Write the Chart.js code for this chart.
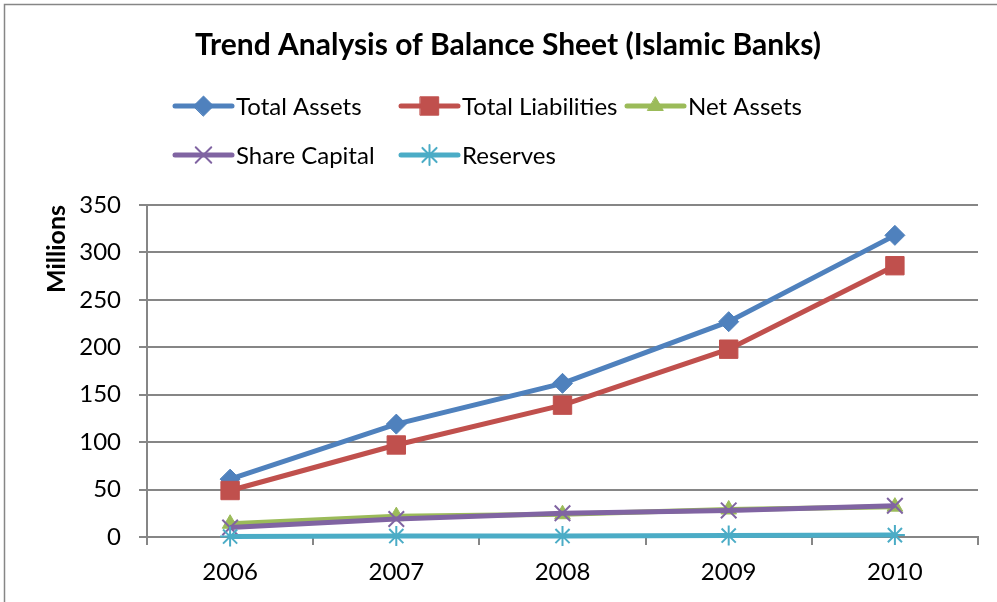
<!DOCTYPE html>
<html>
<head>
<meta charset="utf-8">
<title>Trend Analysis of Balance Sheet (Islamic Banks)</title>
<script src="https://cdn.jsdelivr.net/npm/chart.js@4.4.1/dist/chart.umd.min.js"></script>
<style>
  html, body { margin: 0; padding: 0; background: #fff; }
  #wrap { width: 997px; height: 602px; }
</style>
</head>
<body>
<div id="wrap"><canvas id="trend-chart" width="997" height="602"></canvas></div>
<script>
// values in millions
const years = ['2006', '2007', '2008', '2009', '2010'];
const totalAssets      = [61, 119, 162, 227, 318];
const totalLiabilities = [49, 97, 139, 198, 286];
const netAssets        = [14, 22, 24, 29, 32];
const shareCapital     = [10, 19, 25, 28, 33];
const reserves         = [0.5, 1, 1, 1.5, 2];
const yTicks = [0, 50, 100, 150, 200, 250, 300, 350];

const FONT = 'Lato, "Open Sans", sans-serif';
const GRID = '#868686';

function series(label, data, color, pointStyle, radius, borderW, order) {
  return {
    label, data, order,
    borderColor: color,
    backgroundColor: color,
    borderWidth: 5,
    tension: 0,
    clip: 12,
    pointStyle,
    pointRadius: radius,
    pointHoverRadius: radius,
    pointBackgroundColor: color,
    pointBorderColor: color,
    pointBorderWidth: borderW,
  };
}

// Excel style legend: fixed columns, left aligned rows
const legendGrid = {
  id: 'legendGrid',
  afterDraw(chart) {
    const ctx = chart.ctx;
    ctx.save();
    ctx.font = '24px ' + FONT;
    ctx.textBaseline = 'middle';
    ctx.textAlign = 'left';
    chart.data.datasets.forEach((ds, i) => {
      const col = i % 3, row = Math.floor(i / 3);
      const x = 175 + col * 226, y = 106 + row * 49;
      ctx.strokeStyle = ds.borderColor;
      ctx.lineWidth = 5;
      ctx.lineCap = 'round';
      ctx.beginPath(); ctx.moveTo(x, y); ctx.lineTo(x + 57, y); ctx.stroke();
      ctx.fillStyle = ds.pointBackgroundColor;
      ctx.strokeStyle = ds.pointBorderColor;
      ctx.lineWidth = ds.pointBorderWidth;
      Chart.helpers.drawPoint(ctx, { pointStyle: ds.pointStyle, radius: ds.pointRadius, rotation: 0, borderWidth: ds.pointBorderWidth }, x + 28.5, y);
      ctx.fillStyle = '#000';
      ctx.fillText(ds.label, x + 61, y + 1);
    });
    ctx.restore();
  }
};

const frame = {
  id: 'frame',
  beforeDraw(chart) {
    const ctx = chart.ctx;
    ctx.save();
    ctx.fillStyle = '#fff';
    ctx.fillRect(0, 0, chart.width, chart.height);
    ctx.strokeStyle = GRID;
    ctx.lineWidth = 1.5;
    ctx.strokeRect(4.5, 4.5, chart.width + 20, chart.height + 20);
    ctx.restore();
  }
};

new Chart(document.getElementById('trend-chart'), {
  type: 'line',
  data: {
    labels: years,
    datasets: [
      series('Total Assets', totalAssets, '#4F81BD', 'rectRot', 10, 1, 5),
      series('Total Liabilities', totalLiabilities, '#C0504D', 'rect', 13, 1, 4),
      series('Net Assets', netAssets, '#9BBB59', 'triangle', 9, 1, 3),
      series('Share Capital', shareCapital, '#8064A2', 'crossRot', 11, 2, 2),
      series('Reserves', reserves, '#4BACC6', 'star', 10, 2, 1),
    ]
  },
  options: {
    responsive: false,
    animation: false,
    devicePixelRatio: 1,
    // left padding keeps the title centred like the original
    layout: { padding: { left: 38, right: 19, top: 0, bottom: 0 } },
    plugins: {
      legend: { display: false },
      tooltip: { enabled: false },
      title: {
        display: true,
        text: 'Trend Analysis of Balance Sheet (Islamic Banks)',
        color: '#000',
        font: { family: FONT, size: 30, weight: 'bold' },
        padding: { top: 27, bottom: 142 }
      }
    },
    scales: {
      x: {
        offset: true,
        afterFit: s => { s.height = 65; },
        grid: { offset: true, drawOnChartArea: false, drawTicks: true, tickLength: 8, color: GRID, lineWidth: 2 },
        border: { display: true, color: GRID, width: 2 },
        ticks: { color: '#000', font: { family: FONT, size: 24 }, padding: 13 }
      },
      y: {
        min: 0,
        max: 350,
        afterFit: s => { s.width = 109; },
        afterBuildTicks: s => { s.ticks = yTicks.map(v => ({ value: v })); },
        grid: { color: GRID, lineWidth: 2, tickLength: 8 },
        border: { display: true, color: GRID, width: 2 },
        ticks: { color: '#000', font: { family: FONT, size: 24 }, padding: 18 },
        title: {
          display: true,
          text: 'Millions',
          align: 'end',
          color: '#000',
          font: { family: FONT, size: 25, weight: 'bold' },
          padding: { top: 4, bottom: 0 }
        }
      }
    }
  },
  plugins: [frame, legendGrid]
});
</script>
</body>
</html>
